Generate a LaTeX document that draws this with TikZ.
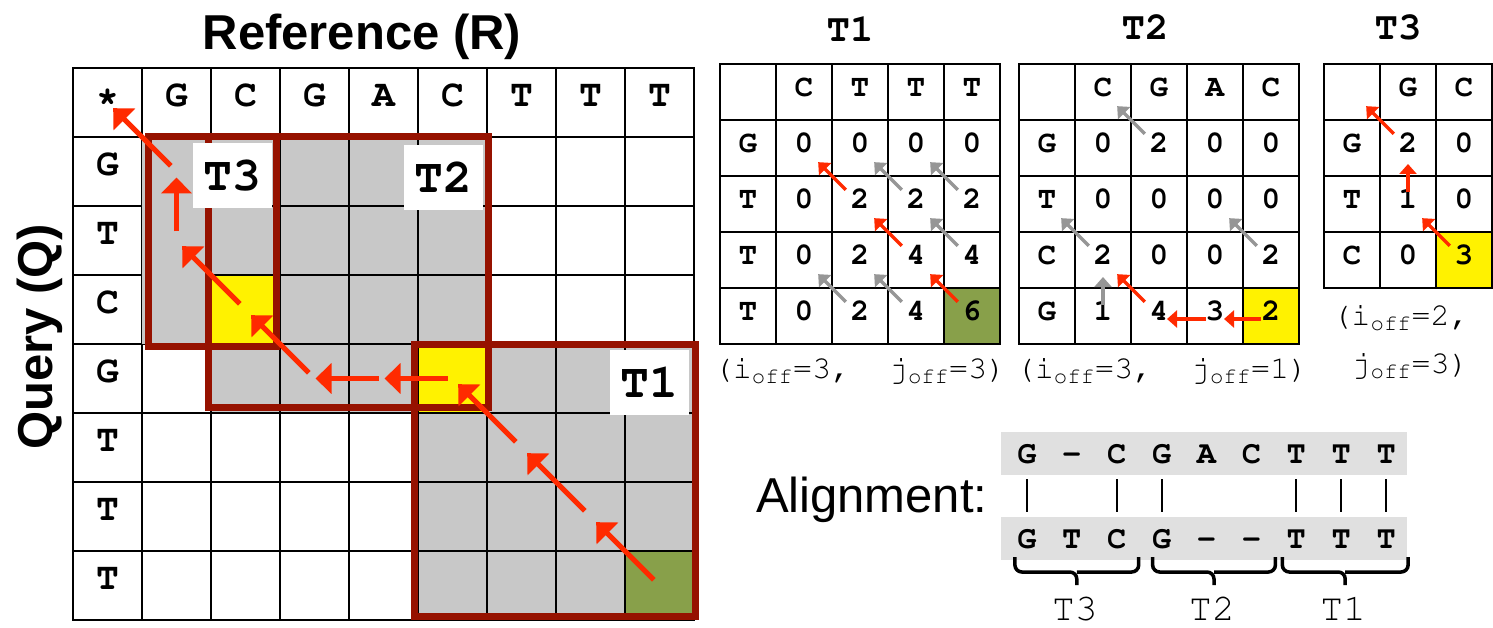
\documentclass[tikz,border=0pt]{standalone}
\usepackage[T1]{fontenc}
\usepackage{fontspec}
\setmainfont{Liberation Sans}
\usetikzlibrary{arrows.meta,matrix,calc,backgrounds}

\definecolor{cellgray}{RGB}{200,200,200}
\definecolor{stripgray}{RGB}{224,224,224}
\definecolor{tileframe}{RGB}{150,18,0}
\definecolor{tracered}{RGB}{255,42,0}
\definecolor{skipgray}{RGB}{150,150,150}
\definecolor{hitgreen}{RGB}{136,160,74}

% Courier for sequences and score tables
\newcommand{\cour}{\fontencoding{T1}\fontfamily{pcr}\selectfont}

\begin{document}
\begin{tikzpicture}[x=1pt,y=-1pt,line width=2pt]
  \tikzstyle{seqcell}=[draw,anchor=center,minimum size=69pt,inner sep=0pt,
                       outer sep=0pt,text height=0.88em,text depth=0pt,
                       font=\cour\bfseries\fontsize{38}{38}\selectfont]
  \tikzstyle{scorecell}=[draw,anchor=center,minimum size=56pt,inner sep=0pt,
                         outer sep=0pt,text height=0.84em,text depth=0pt,
                         font=\cour\bfseries\fontsize{31}{31}\selectfont]
  \tikzstyle{dpmat}=[matrix of nodes,nodes in empty cells,inner sep=0pt,
                     outer sep=0pt,column sep=-2pt,row sep=-2pt,
                     anchor=north west]
  \tikzstyle{axislab}=[anchor=base,font=\bfseries\fontsize{49}{49}\selectfont]
  \tikzstyle{tilebox}=[draw=tileframe,line width=7pt]
  \tikzstyle{tag}=[fill=white,minimum width=79pt,minimum height=65pt,
                   inner sep=0pt,anchor=north east,
                   font=\cour\bfseries\fontsize{48}{48}\selectfont]
  \tikzstyle{trace}=[draw=tracered,line width=5pt,
                     -{Triangle[length=16pt,width=30pt]},
                     shorten <=8pt,shorten >=8pt]
  \tikzstyle{tbarrow}=[line width=3.5pt,-{Triangle[length=10pt,width=17pt]},
                       shorten <=20pt,shorten >=20pt]
  \tikzstyle{tbred}=[tbarrow,draw=tracered]
  \tikzstyle{tbgray}=[tbarrow,draw=skipgray]
  \tikzstyle{tabtitle}=[anchor=base,inner sep=0pt,
                        font=\cour\bfseries\fontsize{39}{39}\selectfont]
  \tikzstyle{offlab}=[anchor=base,inner sep=0pt,
                      font=\cour\fontsize{32}{32}\selectfont]
  \tikzstyle{alnchar}=[anchor=base,inner sep=0pt,text height=20pt,text depth=0pt,
                       font=\cour\bfseries\fontsize{32}{32}\selectfont]
  \tikzstyle{tilebrace}=[line width=3.5pt,rounded corners=7pt]
  \tikzstyle{bracelab}=[anchor=base,inner sep=0pt,
                        font=\cour\fontsize{38}{38}\selectfont]

  \useasboundingbox (0,0) rectangle (1493,628);

  % full matrix, reference along the top, query down the side
  \node[axislab] (reflab) at (362,50) {Reference (R)};
  \node[axislab,rotate=90] (qrylab) at (52,337) {Query (Q)};

  \matrix (m) [dpmat,nodes={seqcell}] at (72,67) {
    * & G & C & G & A & C & T & T & T \\
    G &   &   &   &   &   &   &   &   \\
    T &   &   &   &   &   &   &   &   \\
    C &   & |[fill=yellow]| & & & & & & \\
    G &   &   &   &   & |[fill=yellow]| & & & \\
    T &   &   &   &   &   &   &   &   \\
    T &   &   &   &   &   &   &   &   \\
    T &   &   &   &   &   &   &   & |[fill=hitgreen]| \\
  };
  \fill[cellgray] (m-2-2.north west) rectangle (m-4-2.south east);

  % tiles
  \draw[tilebox] ($(m-2-2.north west)+(6,0)$) rectangle ($(m-4-3.south east)+(-4,2)$);
  \draw[tilebox] ($(m-2-3.north west)+(-3,0)$) rectangle ($(m-5-6.south east)+(1,-6)$);
  \draw[tilebox] ($(m-5-6.north west)+(-4,0)$) rectangle ($(m-8-9.south east)+(1,-4)$);
  \node[tag] (tag3) at ($(m-2-3.north east)+(-7,5)$) {T3};
  \node[tag] (tag2) at ($(m-2-6.north east)+(-3,7)$) {T2};
  \node[tag] (tag1) at ($(m-5-9.north east)+(-4,5)$) {T1};

  % traceback path
  \foreach \a/\b in {8-9/7-8,7-8/6-7,6-7/5-6,5-4/4-3,4-3/3-2,2-2/1-1}
    \draw[trace] (m-\a.center) -- (m-\b.center);
  \draw[trace,shorten <=5pt,shorten >=1pt] (m-5-6.center) -- (m-5-5.center);
  \draw[trace,shorten <=5pt,shorten >=1pt] (m-5-5.center) -- (m-5-4.center);
  \draw[trace,shorten <=9pt,shorten >=6pt] (m-3-2.center) -- (m-2-2.center);

  % tile score tables
  \node[tabtitle] (h1) at (850,42) {T1};
  \node[tabtitle] (h2) at (1145,40) {T2};
  \node[tabtitle] (h3) at (1398,40) {T3};

  \matrix (t1) [dpmat,nodes={scorecell}] at (719,63) {
      & C & T & T & T \\
    G & 0 & 0 & 0 & 0 \\
    T & 0 & 2 & 2 & 2 \\
    T & 0 & 2 & 4 & 4 \\
    T & 0 & 2 & 4 & |[fill=hitgreen]| 6 \\
  };
  \matrix (t2) [dpmat,nodes={scorecell}] at (1018,63) {
      & C & G & A & C \\
    G & 0 & 2 & 0 & 0 \\
    T & 0 & 0 & 0 & 0 \\
    C & 2 & 0 & 0 & 2 \\
    G & 1 & 4 & 3 & |[fill=yellow]| 2 \\
  };
  \matrix (t3) [dpmat,nodes={scorecell}] at (1323,63) {
      & G & C \\
    G & 2 & 0 \\
    T & 1 & 0 \\
    C & 0 & |[fill=yellow]| 3 \\
  };

  \foreach \a/\b in {3-3/2-2,4-4/3-3,5-5/4-4}
    \draw[tbred] (t1-\a.center) -- (t1-\b.center);
  \foreach \a/\b in {3-4/2-3,3-5/2-4,4-5/3-4,5-3/4-2,5-4/4-3}
    \draw[tbgray] (t1-\a.center) -- (t1-\b.center);

  \foreach \a/\b in {2-3/1-2,4-2/3-1,4-5/3-4}
    \draw[tbgray] (t2-\a.center) -- (t2-\b.center);
  \draw[tbgray,shorten <=11pt,shorten >=17pt] (t2-5-2.center) -- (t2-4-2.center);
  \draw[tbred] (t2-5-3.center) -- (t2-4-2.center);
  \draw[tbred,shorten <=10pt,shorten >=9pt] ([yshift=-3pt]t2-5-5.center) -- ([yshift=-3pt]t2-5-4.center);
  \draw[tbred,shorten <=9pt,shorten >=8pt] ([yshift=-3pt]t2-5-4.center) -- ([yshift=-3pt]t2-5-3.center);

  \draw[tbred] (t3-2-2.center) -- (t3-1-1.center);
  \draw[tbred,shorten <=12pt,shorten >=16pt] (t3-3-2.center) -- (t3-2-2.center);
  \draw[tbred] (t3-4-3.center) -- (t3-3-2.center);

  \node[offlab] (off1) at (860,378) {(i\textsubscript{off}=3,~~j\textsubscript{off}=3)};
  \node[offlab] (off2) at (1162,378) {(i\textsubscript{off}=3,~~j\textsubscript{off}=1)};
  \node[offlab,anchor=base east] (off3a) at (1470,325) {(i\textsubscript{off}=2,};
  \node[offlab,anchor=base east] (off3b) at (1470,373) {j\textsubscript{off}=3)};

  % resulting alignment
  \node[anchor=base west,inner sep=0pt,font=\fontsize{49}{49}\selectfont]
    (alnlab) at (755,512) {Alignment:};
  \foreach \ch [count=\k] in {G,-,C,G,A,C,T,T,T}
    \node[alnchar] (a\k) at ({982+44.9*\k},463) {\ch};
  \foreach \ch [count=\k] in {G,T,C,G,-,-,T,T,T}
    \node[alnchar] (b\k) at ({982+44.9*\k},548) {\ch};
  \foreach \k in {1,3,4,7,8,9}
    \draw[shorten <=15pt,shorten >=15pt] (a\k) -- (b\k);

  % braces grouping the alignment by tile
  \foreach \l/\r/\dl/\dr/\t in {1/3/-12/22/T3,4/6/-9/24/T2,7/9/-14/22/T1}{
    \coordinate (bl\t) at ($(b\l)+(\dl,19)$);
    \coordinate (br\t) at ($(b\r)+(\dr,19)$);
    \coordinate (bm\t) at ($(bl\t)!0.5!(br\t)+(0,15)$);
    \draw[tilebrace] (bl\t) |- (bm\t) -- ++(0,13);
    \draw[tilebrace] (br\t) |- (bm\t);
    \node[bracelab] (lab\t) at ($(bm\t)+(-2,48)$) {\t};
  }

  \begin{scope}[on background layer]
    \fill[white] (0,0) rectangle (1493,628);
    \fill[cellgray] (m-2-2.north west) rectangle (m-4-3.south east);
    \fill[cellgray] (m-2-3.north west) rectangle (m-5-6.south east);
    \fill[cellgray] (m-5-6.north west) rectangle (m-8-9.south east);
    \fill[stripgray] ($(a1)+(-26,-21)$) rectangle ($(a9)+(21,22)$);
    \fill[stripgray] ($(b1)+(-26,-21)$) rectangle ($(b9)+(21,22)$);
  \end{scope}
\end{tikzpicture}
\end{document}
